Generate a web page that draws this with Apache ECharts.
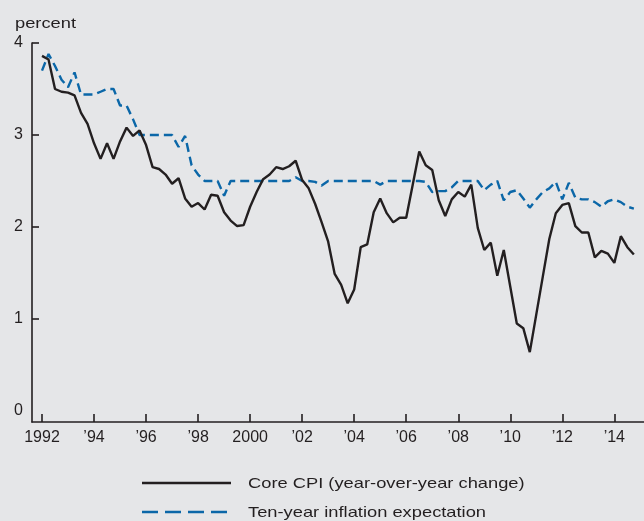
<!DOCTYPE html>
<html>
<head>
<meta charset="utf-8">
<script src="https://cdn.jsdelivr.net/npm/echarts@6/dist/echarts.min.js"></script>
<style>
  html, body { margin: 0; padding: 0; background: #e5e6e8; }
  #chart-panel { width: 644px; height: 521px; }
</style>
</head>
<body>
<div id="chart-panel"></div>
<script>
// quarterly observations, 1992 Q1 .. 2014 Q4
const startYear = 1992
const coreCpi = [
  3.86, 3.82, 3.50, 3.47,
  3.46, 3.43, 3.24, 3.12,
  2.91, 2.74, 2.91, 2.74,
  2.93, 3.08, 2.99, 3.05,
  2.89, 2.65, 2.63, 2.57,
  2.47, 2.53, 2.31, 2.22,
  2.26, 2.19, 2.35, 2.34,
  2.16, 2.07, 2.01, 2.02,
  2.22, 2.38, 2.52, 2.57,
  2.65, 2.63, 2.66, 2.72,
  2.51, 2.42, 2.25, 2.05,
  1.84, 1.49, 1.37, 1.17,
  1.32, 1.78, 1.81, 2.16,
  2.31, 2.15, 2.05, 2.10,
  2.10, 2.46, 2.82, 2.67,
  2.62, 2.29, 2.12, 2.30,
  2.38, 2.33, 2.46, 1.99,
  1.75, 1.83, 1.47, 1.75,
  1.35, 0.95, 0.90, 0.64,
  1.05, 1.46, 1.87, 2.15,
  2.24, 2.26, 2.01, 1.94,
  1.94, 1.67, 1.74, 1.71,
  1.61, 1.90, 1.78, 1.70
]
const expectation = [
  3.70, 3.88, 3.75, 3.60,
  3.52, 3.68, 3.44, 3.44,
  3.44, 3.47, 3.50, 3.50,
  3.32, 3.32, 3.17, 3.00,
  3.00, 3.00, 3.00, 3.00,
  3.00, 2.87, 2.99, 2.67,
  2.57, 2.50, 2.50, 2.50,
  2.34, 2.50, 2.50, 2.50,
  2.50, 2.50, 2.50, 2.50,
  2.50, 2.50, 2.50, 2.54,
  2.50, 2.50, 2.49, 2.45,
  2.50, 2.50, 2.50, 2.50,
  2.50, 2.50, 2.50, 2.50,
  2.46, 2.50, 2.50, 2.50,
  2.50, 2.50, 2.50, 2.49,
  2.38, 2.39, 2.39, 2.43,
  2.50, 2.50, 2.50, 2.50,
  2.40, 2.46, 2.50, 2.29,
  2.38, 2.40, 2.31, 2.21,
  2.30, 2.38, 2.42, 2.49,
  2.30, 2.48, 2.32, 2.30,
  2.30, 2.27, 2.22, 2.28,
  2.30, 2.27, 2.22, 2.20
]
const xTicks = [1992, 1994, 1996, 1998, 2000, 2002, 2004, 2006, 2008, 2010, 2012, 2014]
const yTicks = [0, 1, 2, 3, 4]
const seriesNames = ["Core CPI (year-over-year change)", "Ten-year inflation expectation"]

const ink = "#231f20"
const blue = "#0b67a8"
const font = "Liberation Sans"
const stretch = 1.22 // the source type is set wide

const toPoints = (arr) => arr.map((v, i) => [startYear + i * 0.25, v])

const chart = echarts.init(document.getElementById("chart-panel"))

// legend drawn by hand: line sample + label, one row per series
const legendRow = (y, name, color, dash) => [
  {
    type: "line",
    shape: { x1: 142, y1: y, x2: 231, y2: y },
    style: { stroke: color, lineWidth: 2.4, lineDash: dash }
  },
  {
    type: "text",
    x: 248,
    y: y + 1,
    scaleX: stretch,
    style: {
      text: name,
      fontSize: 15,
      fontFamily: font,
      fill: ink,
      verticalAlign: "middle"
    }
  }
]

const options = {
  backgroundColor: "#e5e6e8",
  animation: false,
  textStyle: { fontFamily: font },
  grid: { left: 32, right: 0, top: 43, bottom: 99 },
  xAxis: {
    type: "value",
    min: 1991.615,
    max: 2015.14,
    axisLine: { show: true, onZero: false, lineStyle: { color: ink, width: 1.6 } },
    axisTick: {
      show: true,
      inside: true,
      length: 8,
      customValues: xTicks,
      lineStyle: { color: ink, width: 1.6 }
    },
    axisLabel: {
      customValues: xTicks,
      margin: 8,
      fontSize: 16,
      color: ink,
      fontFamily: font,
      formatter: (v) => (v === 1992 || v === 2000 ? String(v) : "\u2019" + String(v).slice(2))
    },
    splitLine: { show: false }
  },
  yAxis: {
    type: "value",
    min: -0.12,
    max: 4,
    axisLine: { show: true, lineStyle: { color: ink, width: 1.6 } },
    axisTick: {
      show: true,
      inside: true,
      length: 7,
      customValues: yTicks.slice(1),
      lineStyle: { color: ink, width: 1.6 }
    },
    axisLabel: {
      customValues: yTicks,
      margin: 9,
      fontSize: 16,
      color: ink,
      fontFamily: font
    },
    splitLine: { show: false }
  },
  graphic: [
    {
      type: "text",
      x: 15,
      y: 24,
      scaleX: stretch,
      style: { text: "percent", fontSize: 15, fontFamily: font, fill: ink, verticalAlign: "middle" }
    },
    ...legendRow(483, seriesNames[0], ink, null),
    ...legendRow(512, seriesNames[1], blue, [16, 7])
  ],
  series: [
    {
      name: seriesNames[1],
      type: "line",
      data: toPoints(expectation),
      symbol: "none",
      lineStyle: { color: blue, width: 2.4, type: [9, 5] },
      itemStyle: { color: blue },
      z: 2
    },
    {
      name: seriesNames[0],
      type: "line",
      data: toPoints(coreCpi),
      symbol: "none",
      lineStyle: { color: ink, width: 2.4 },
      itemStyle: { color: ink },
      z: 3
    }
  ]
}
chart.setOption(options)
</script>
</body>
</html>
